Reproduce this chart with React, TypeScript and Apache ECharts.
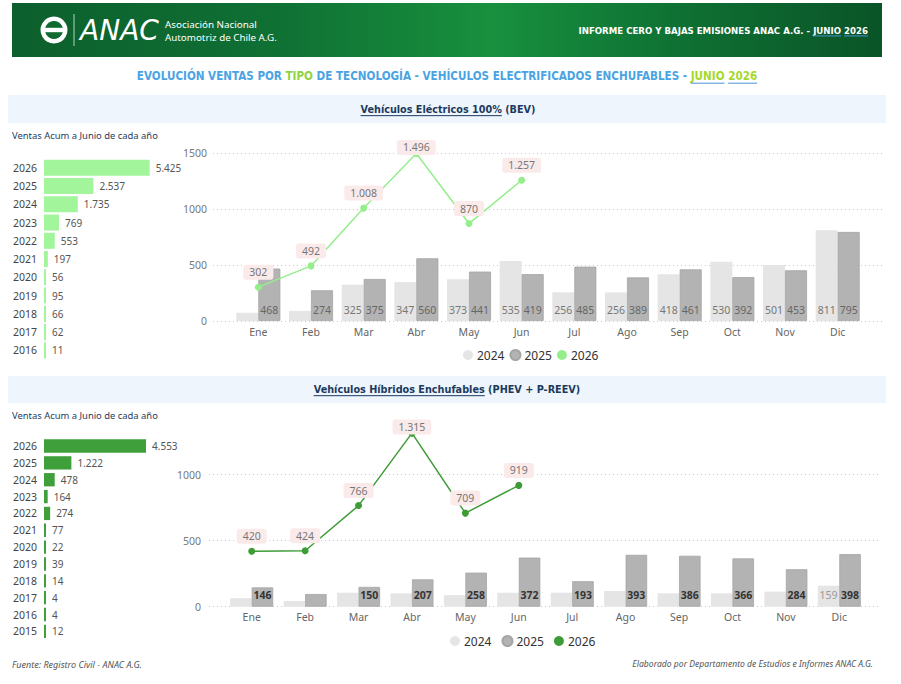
import React, { useEffect, useRef } from 'react';
import * as echarts from 'echarts';

// months of the monthly charts
const MONTHS = ['Ene', 'Feb', 'Mar', 'Abr', 'May', 'Jun', 'Jul', 'Ago', 'Sep', 'Oct', 'Nov', 'Dic'];

// BEV (100% eléctricos)
const BEV_2024 = [74, 90, 325, 347, 373, 535, 256, 256, 418, 530, 501, 811];
const BEV_2025 = [468, 274, 375, 560, 441, 419, 485, 389, 461, 392, 453, 795];
const BEV_2026 = [302, 492, 1008, 1496, 870, 1257];
const BEV_YEARS = ['2026', '2025', '2024', '2023', '2022', '2021', '2020', '2019', '2018', '2017', '2016'];
const BEV_ACUM = [5425, 2537, 1735, 769, 553, 197, 56, 95, 66, 62, 11];

// PHEV + P-REEV
const PHEV_2024 = [64, 43, 106, 101, 88, 106, 106, 119, 101, 101, 114, 159];
const PHEV_2025 = [146, 96, 150, 207, 258, 372, 193, 393, 386, 366, 284, 398];
const PHEV_2026 = [420, 424, 766, 1315, 709, 919];
const PHEV_YEARS = ['2026', '2025', '2024', '2023', '2022', '2021', '2020', '2019', '2018', '2017', '2016', '2015'];
const PHEV_ACUM = [4553, 1222, 478, 164, 274, 77, 22, 39, 14, 4, 4, 12];

const SANS = "'Noto Sans', 'Open Sans', sans-serif";
const COND = "'Liberation Sans Narrow', 'DejaVu Sans Condensed', 'Roboto', sans-serif";

const fmt = (v: number) => String(v).replace(/\B(?=(\d{3})+(?!\d))/g, '.');

let measureCtx: CanvasRenderingContext2D | null = null;
function textWidth(text: string, font: string) {
  if (!measureCtx) measureCtx = document.createElement('canvas').getContext('2d');
  measureCtx!.font = font;
  return measureCtx!.measureText(text).width;
}

type Run = { text: string; color: string; underline?: string };
interface LineOpts {
  x: number;
  y: number;
  align: 'left' | 'center' | 'right';
  size: number;
  family: string;
  weight?: string;
  fstyle?: string;
  width?: number;
  runs: Run[];
}

// lays out coloured / underlined pieces of one text line
function textLine(o: LineOpts): any[] {
  const weight = o.weight ?? 'normal';
  const fstyle = o.fstyle ?? 'normal';
  const fontOf = (s: number) => `${fstyle} ${weight} ${s}px ${o.family}`;
  let size = o.size;
  if (o.width) {
    const w = textWidth(o.runs.map((r) => r.text).join(''), fontOf(size));
    const k = Math.min(1.25, Math.max(0.8, o.width / w));
    size = size * k;
  }
  const font = fontOf(size);
  const widths = o.runs.map((r) => textWidth(r.text, font));
  const total = widths.reduce((a, b) => a + b, 0);
  let cx = o.align === 'center' ? o.x - total / 2 : o.align === 'right' ? o.x - total : o.x;
  const els: any[] = [];
  o.runs.forEach((r, i) => {
    els.push({
      type: 'text',
      x: cx,
      y: o.y,
      silent: true,
      style: {
        text: r.text,
        fill: r.color,
        fontSize: size,
        fontFamily: o.family,
        fontWeight: weight,
        fontStyle: fstyle,
        align: 'left',
        verticalAlign: 'middle',
      },
    });
    if (r.underline) {
      const uy = o.y + size * 0.62;
      els.push({
        type: 'line',
        silent: true,
        shape: { x1: cx, y1: uy, x2: cx + widths[i], y2: uy },
        style: { stroke: r.underline, lineWidth: 1 },
      });
    }
    cx += widths[i];
  });
  return els;
}

function headerGraphics(): any[] {
  const white = '#ffffff';
  const blueLine = '#4a90d9';
  return [
    {
      type: 'rect',
      silent: true,
      shape: { x: 12, y: 3, width: 870, height: 54 },
      style: {
        fill: new echarts.graphic.LinearGradient(0, 0, 1, 0, [
          { offset: 0, color: '#0c5f2c' },
          { offset: 0.3, color: '#0f7034' },
          { offset: 0.55, color: '#18903e' },
          { offset: 0.75, color: '#0f7334' },
          { offset: 1, color: '#0a5427' },
        ]),
      },
    },
    { type: 'circle', silent: true, shape: { cx: 54, cy: 30, r: 13.5 }, style: { fill: white } },
    { type: 'circle', silent: true, shape: { cx: 54, cy: 30, r: 9 }, style: { fill: '#0e6a31' } },
    { type: 'rect', silent: true, shape: { x: 44, y: 27.8, width: 20, height: 4.4 }, style: { fill: white } },
    { type: 'line', silent: true, shape: { x1: 74, y1: 14, x2: 74, y2: 46 }, style: { stroke: 'rgba(255,255,255,0.7)', lineWidth: 1 } },
    ...textLine({ x: 80, y: 30, align: 'left', size: 27, family: "'DejaVu Sans', sans-serif", fstyle: 'italic', width: 79, runs: [{ text: 'ANAC', color: white }] }),
    ...textLine({ x: 165, y: 24, align: 'left', size: 10.5, family: SANS, width: 92, runs: [{ text: 'Asociación Nacional', color: white }] }),
    ...textLine({ x: 165, y: 37, align: 'left', size: 10.5, family: SANS, width: 112, runs: [{ text: 'Automotriz de Chile A.G.', color: white }] }),
    ...textLine({
      x: 868, y: 30, align: 'right', size: 11, family: COND, weight: 'bold', width: 290,
      runs: [
        { text: 'INFORME CERO Y BAJAS EMISIONES ANAC A.G. - ', color: white },
        { text: 'JUNIO', color: white, underline: blueLine },
        { text: ' ', color: white },
        { text: '2026', color: white, underline: blueLine },
      ],
    }),
    ...textLine({
      x: 447, y: 76, align: 'center', size: 12.5, family: COND, weight: 'bold', width: 621,
      runs: [
        { text: 'EVOLUCIÓN VENTAS POR ', color: '#4aa3e3' },
        { text: 'TIPO', color: '#8fd43f' },
        { text: ' DE TECNOLOGÍA - VEHÍCULOS ELECTRIFICADOS ENCHUFABLES - ', color: '#4aa3e3' },
        { text: 'JUNIO', color: '#a6d82a', underline: blueLine },
        { text: ' ', color: '#4aa3e3' },
        { text: '2026', color: '#a6d82a', underline: blueLine },
      ],
    }),
    // section bands
    { type: 'rect', silent: true, shape: { x: 8, y: 95, width: 878, height: 28 }, style: { fill: '#eef5fc' } },
    { type: 'rect', silent: true, shape: { x: 8, y: 376, width: 878, height: 27 }, style: { fill: '#eef5fc' } },
    ...textLine({
      x: 448, y: 109, align: 'center', size: 11.5, family: COND, weight: 'bold', width: 175,
      runs: [
        { text: 'Vehículos Eléctricos 100%', color: '#1b3a5e', underline: '#1b3a5e' },
        { text: ' (BEV)', color: '#1b3a5e' },
      ],
    }),
    ...textLine({
      x: 447, y: 389, align: 'center', size: 11.5, family: COND, weight: 'bold', width: 267,
      runs: [
        { text: 'Vehículos Híbridos Enchufables', color: '#1b3a5e', underline: '#1b3a5e' },
        { text: ' (PHEV + P-REEV)', color: '#1b3a5e' },
      ],
    }),
    ...textLine({ x: 12, y: 135, align: 'left', size: 10, family: SANS, width: 146, runs: [{ text: 'Ventas Acum a Junio de cada año', color: '#1f3c5c' }] }),
    ...textLine({ x: 12, y: 415, align: 'left', size: 10, family: SANS, width: 146, runs: [{ text: 'Ventas Acum a Junio de cada año', color: '#1f3c5c' }] }),
    ...textLine({ x: 12, y: 664, align: 'left', size: 9, family: SANS, fstyle: 'italic', width: 130, runs: [{ text: 'Fuente: Registro Civil - ANAC A.G.', color: '#555' }] }),
    ...textLine({ x: 873, y: 664, align: 'right', size: 9, family: SANS, fstyle: 'italic', width: 241, runs: [{ text: 'Elaborado por Departamento de Estudios e Informes ANAC A.G.', color: '#555' }] }),
  ];
}

interface MonthCfg {
  base: number; // first grid index of this block (left bars)
  years: string[];
  acum: number[];
  acumMax: number;
  acumColor: string;
  acumTop: number;
  acumHeight: number;
  acumGap: string;
  lineLeft: number;
  lineTop: number;
  lineHeight: number;
  lineMax: number;
  labelMargin: number;
  dataLeft: number;
  dataWidth: number;
  dataTop: number;
  dataHeight: number;
  dataMax: number;
  barWidth: number;
  labelMin: number;
  v24: number[];
  v25: number[];
  v26: number[];
  lineColor: string;
  label24Color: string;
  label25Color: string;
  label25Weight: string;
  legendLeft: number;
  legendTop: number;
  legendGap: number;
}

function block(c: MonthCfg) {
  const gridAcum = c.base;
  const gridLines = c.base + 1;
  const gridData = c.base + 2;
  const grids = [
    { left: 44, top: c.acumTop, width: 134, height: c.acumHeight },
    { left: c.lineLeft, top: c.lineTop, width: 669, height: c.lineHeight },
    { left: c.dataLeft, top: c.dataTop, width: c.dataWidth, height: c.dataHeight },
  ];
  const xAxes = [
    { gridIndex: gridAcum, type: 'value', min: 0, max: c.acumMax, show: false },
    { gridIndex: gridLines, type: 'value', min: 0, max: 1, show: false },
    {
      gridIndex: gridData,
      type: 'category',
      data: MONTHS,
      axisLine: { show: false },
      axisTick: { show: false },
      axisLabel: { color: '#666', fontSize: 10.5, fontFamily: SANS, margin: 5 },
    },
  ];
  const yAxes = [
    {
      gridIndex: gridAcum,
      type: 'category',
      data: c.years,
      inverse: true,
      axisLine: { show: false },
      axisTick: { show: false },
      axisLabel: { color: '#444', fontSize: 10.5, fontFamily: SANS, margin: 7 },
    },
    {
      gridIndex: gridLines,
      type: 'value',
      min: 0,
      max: c.lineMax,
      interval: 500,
      axisLine: { show: false },
      axisTick: { show: false },
      axisLabel: {
        color: '#777',
        fontSize: 10.5,
        fontFamily: SANS,
        margin: c.labelMargin,
        formatter: (v: number) => String(v),
      },
      splitLine: { lineStyle: { color: '#c8c8c8', type: [1, 3], width: 1 } },
    },
    { gridIndex: gridData, type: 'value', min: 0, max: c.dataMax, show: false, splitLine: { show: false } },
  ];
  const maxIdx = c.v26.indexOf(Math.max(...c.v26));
  const series = [
    {
      name: 'acum',
      type: 'bar',
      xAxisIndex: gridAcum,
      yAxisIndex: gridAcum,
      data: c.acum,
      barCategoryGap: c.acumGap,
      barMinHeight: 2,
      itemStyle: { color: c.acumColor },
      label: { show: true, position: 'right', distance: 6, color: '#555', fontSize: 10, fontFamily: SANS, formatter: (p: any) => fmt(p.value) },
      silent: true,
    },
    {
      name: '2024',
      type: 'bar',
      xAxisIndex: gridData,
      yAxisIndex: gridData,
      data: c.v24,
      barWidth: c.barWidth,
      barGap: '0%',
      itemStyle: { color: '#e5e5e5' },
      label: {
        show: true,
        position: 'insideBottom',
        distance: 6,
        color: c.label24Color,
        fontSize: 10.5,
        fontFamily: SANS,
        formatter: (p: any) => (p.value >= c.labelMin ? fmt(p.value) : ''),
      },
      silent: true,
    },
    {
      name: '2025',
      type: 'bar',
      xAxisIndex: gridData,
      yAxisIndex: gridData,
      data: c.v25,
      barWidth: c.barWidth,
      barGap: '0%',
      itemStyle: { color: '#b3b3b3', borderColor: '#a5a5a5', borderWidth: 0.8 },
      label: {
        show: true,
        position: 'insideBottom',
        distance: 6,
        color: c.label25Color,
        fontWeight: c.label25Weight,
        fontSize: 10.5,
        fontFamily: SANS,
        formatter: (p: any) => (p.value >= c.labelMin ? fmt(p.value) : ''),
      },
      silent: true,
    },
    {
      name: '2026',
      type: 'line',
      xAxisIndex: gridData,
      yAxisIndex: gridData,
      data: c.v26.map((v, i) => (i === maxIdx ? { value: v, label: { offset: [0, 9] } } : v)),
      symbol: 'circle',
      symbolSize: 7,
      itemStyle: { color: c.lineColor },
      lineStyle: { color: c.lineColor, width: 1.5 },
      label: {
        show: true,
        position: 'top',
        distance: 4,
        color: '#777',
        fontSize: 10.5,
        fontFamily: SANS,
        backgroundColor: '#fbeaea',
        borderRadius: 3,
        padding: [2, 6],
        formatter: (p: any) => fmt(p.value),
      },
      z: 5,
      silent: true,
    },
  ];
  const legend = {
    left: c.legendLeft,
    top: c.legendTop,
    icon: 'circle',
    itemWidth: 10,
    itemHeight: 10,
    itemGap: c.legendGap,
    selectedMode: false,
    textStyle: { color: '#333', fontSize: 12, fontFamily: SANS, padding: [0, 0, 0, -1] },
    data: [
      { name: '2024', itemStyle: { color: '#e5e5e5' } },
      { name: '2025', itemStyle: { color: '#b3b3b3' } },
      { name: '2026', itemStyle: { color: c.lineColor } },
    ],
  };
  return { grids, xAxes, yAxes, series, legend };
}

function buildOption() {
  const bev = block({
    base: 0,
    years: BEV_YEARS,
    acum: BEV_ACUM,
    acumMax: 6880,
    acumColor: '#a3f59b',
    acumTop: 158.6,
    acumHeight: 200.9,
    acumGap: '12%',
    lineLeft: 213,
    lineTop: 153,
    lineHeight: 168,
    lineMax: 1500,
    labelMargin: 6,
    dataLeft: 232,
    dataWidth: 632,
    dataTop: 153,
    dataHeight: 168,
    dataMax: 1500,
    barWidth: 22,
    labelMin: 150,
    v24: BEV_2024,
    v25: BEV_2025,
    v26: BEV_2026,
    lineColor: '#94ee8c',
    label24Color: '#777',
    label25Color: '#666',
    label25Weight: 'normal',
    legendLeft: 458,
    legendTop: 344,
    legendGap: 5,
  });
  const phev = block({
    base: 3,
    years: PHEV_YEARS,
    acum: PHEV_ACUM,
    acumMax: 5980,
    acumColor: '#3f9f3a',
    acumTop: 437.6,
    acumHeight: 202.2,
    acumGap: '21%',
    lineLeft: 209,
    lineTop: 474.7,
    lineHeight: 132,
    lineMax: 1000,
    labelMargin: 8,
    dataLeft: 225,
    dataWidth: 641,
    dataTop: 421.9,
    dataHeight: 184.8,
    dataMax: 1400,
    barWidth: 21.5,
    labelMin: 130,
    v24: PHEV_2024,
    v25: PHEV_2025,
    v26: PHEV_2026,
    lineColor: '#3d9c36',
    label24Color: '#999',
    label25Color: '#333',
    label25Weight: 'bold',
    legendLeft: 445,
    legendTop: 630,
    legendGap: 10,
  });
  return {
    animation: false,
    backgroundColor: '#ffffff',
    textStyle: { fontFamily: SANS },
    graphic: { elements: headerGraphics() },
    grid: [...bev.grids, ...phev.grids],
    xAxis: [...bev.xAxes, ...phev.xAxes],
    yAxis: [...bev.yAxes, ...phev.yAxes],
    legend: [bev.legend, phev.legend],
    series: [...bev.series, ...phev.series],
  };
}

const App: React.FC = () => {
  const chartRef = useRef<HTMLDivElement | null>(null);

  useEffect(() => {
    let chart: echarts.ECharts | null = null;
    if (chartRef.current) {
      chart = echarts.init(chartRef.current, null, { renderer: 'svg' });
      chart.setOption(buildOption());
    }
    return () => {
      chart?.dispose();
    };
  }, []);

  return (
    <div
      ref={chartRef}
      style={{ position: 'absolute', left: 0, top: 0, width: 901, height: 684, background: '#fff' }}
    />
  );
};

export default App;
